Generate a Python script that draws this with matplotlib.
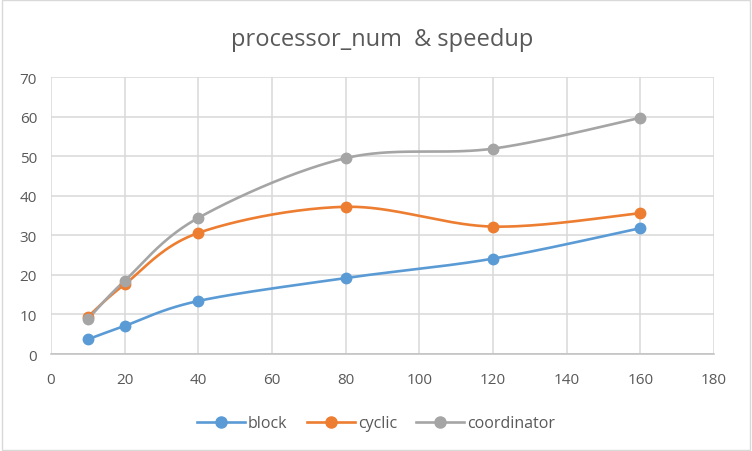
import matplotlib.pyplot as plt
import numpy as np

procs = [10, 20, 40, 80, 120, 160]
block = [3.7, 7.1, 13.4, 19.2, 24.1, 31.8]
cyclic = [9.4, 17.6, 30.6, 37.2, 32.2, 35.6]
coordinator = [8.8, 18.5, 34.4, 49.5, 51.9, 59.7]

names = ["block", "cyclic", "coordinator"]
colors = ["#5B9BD5", "#ED7D31", "#A5A5A5"]


def smooth(x, y, n=40):
	# excel-like smoothing: bezier segments, control points from neighbours / 6
	p = np.column_stack([x, y]).astype(float)
	p = np.vstack([p[0], p, p[-1]])
	out = []
	t = np.linspace(0, 1, n)[:, None]
	for i in range(1, len(p) - 2):
		p0 = p[i]
		p3 = p[i + 1]
		c1 = p0 + (p[i + 1] - p[i - 1]) / 6
		c2 = p3 - (p[i + 2] - p[i]) / 6
		seg = (1 - t) ** 3 * p0 + 3 * (1 - t) ** 2 * t * c1 + 3 * (1 - t) * t ** 2 * c2 + t ** 3 * p3
		out.append(seg)
	out = np.vstack(out)
	return out[:, 0], out[:, 1]


plt.rcParams['font.family'] = ['Open Sans', 'DejaVu Sans']

fig = plt.figure(figsize=(7.52, 4.52), dpi=100)
ax = fig.add_axes([0.0678, 0.2146, 0.8817, 0.6128])

for name, vals, c in zip(names, [block, cyclic, coordinator], colors):
	sx, sy = smooth(procs, vals)
	ax.plot(sx, sy, color=c, lw=1.9, solid_capstyle="round", zorder=3)
	ax.plot(procs, vals, "o", color=c, ms=7.5, zorder=4)
	ax.plot([], [], "-o", color=c, lw=1.9, ms=8, label=name)

ax.set_xlim(0, 180)
ax.set_ylim(0, 70)
ax.set_xticks(np.arange(0, 181, 20))
ax.set_yticks(np.arange(0, 71, 10))
ax.grid(True, color="#D9D9D9", lw=1.1)
ax.set_axisbelow(True)
for s in ["top", "right", "left"]:
	ax.spines[s].set_visible(False)
ax.spines["bottom"].set_color("#BFBFBF")
ax.spines["bottom"].set_linewidth(1.1)
ax.tick_params(length=0, labelsize=11, colors="#595959")
ax.tick_params(axis="x", pad=13)
ax.tick_params(axis="y", pad=10)

ax.set_title("processor_num  & speedup", fontsize=17, color="#595959", pad=23)

fig.legend(loc="lower center", bbox_to_anchor=(0.5, 0.012), ncol=3, frameon=False,
	fontsize=11.5, labelcolor="#595959", handlelength=3.0, handletextpad=0.2, columnspacing=1.2)

fig.patches.append(plt.Rectangle((0.002, 0.002), 0.996, 0.996, transform=fig.transFigure,
	fill=False, edgecolor="#D9D9D9", lw=1))

fig.savefig("out.png", dpi=100)
